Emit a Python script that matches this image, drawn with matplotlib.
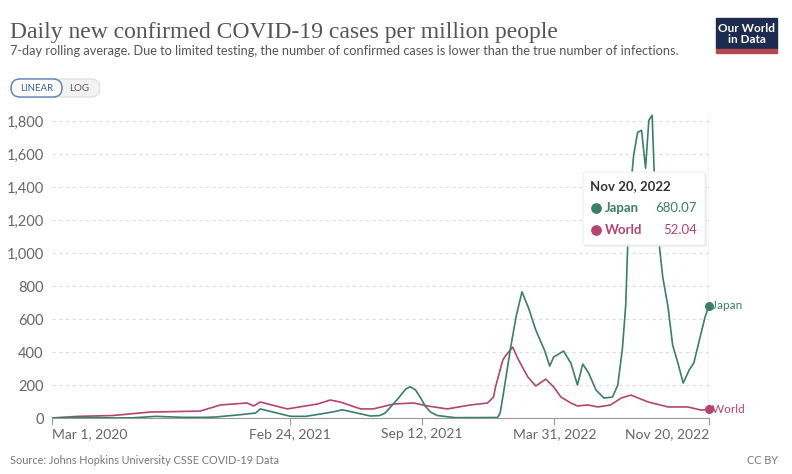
import numpy as np
import pandas as pd
import matplotlib
matplotlib.use("Agg")
import matplotlib.pyplot as plt
import matplotlib.dates as mdates
from matplotlib.patches import FancyBboxPatch, Rectangle

plt.rcParams["font.family"] = ["Lato", "DejaVu Sans"]

# -----------------------------
# Data
# -----------------------------
japan_dates = [
    "2020-03-01", "2020-04-15", "2020-06-01", "2020-07-01", "2020-08-05", "2020-09-15",
    "2020-10-20", "2020-11-03", "2020-12-11", "2021-01-03", "2021-01-10", "2021-02-25",
    "2021-03-20", "2021-04-20", "2021-05-04", "2021-05-14", "2021-06-26", "2021-07-10",
    "2021-07-18", "2021-08-06", "2021-08-18", "2021-08-25", "2021-09-02", "2021-09-10",
    "2021-09-17", "2021-09-25", "2021-10-05", "2021-11-01",
    "2022-01-04", "2022-01-08", "2022-01-13", "2022-01-24", "2022-02-01", "2022-02-10",
    "2022-02-20", "2022-03-03",
    "2022-03-16", "2022-03-24", "2022-03-30", "2022-04-14", "2022-04-25", "2022-05-05",
    "2022-05-13", "2022-05-22", "2022-06-02", "2022-06-14", "2022-06-27", "2022-07-05",
    "2022-07-12", "2022-07-17", "2022-07-22", "2022-07-29", "2022-08-04", "2022-08-10",
    "2022-08-16", "2022-08-21", "2022-08-26", "2022-08-29", "2022-09-05", "2022-09-11",
    "2022-09-19", "2022-09-26", "2022-10-04", "2022-10-12", "2022-10-21", "2022-10-28",
    "2022-11-08", "2022-11-14", "2022-11-20",
]
japan_values = [
    0.5, 4, 0.5, 1, 10, 4,
    4, 6, 20, 30, 55, 10,
    10, 30, 40, 50, 12, 15,
    30, 115, 175, 190, 170, 120,
    70, 35, 15, 2,
    3, 30, 150, 430, 612, 765,
    667, 533,
    412, 315, 370, 406, 333, 200,
    327, 272, 170, 121, 127, 200,
    420, 685, 1290, 1594, 1733, 1745,
    1515, 1806, 1836, 1500, 1079, 855,
    673, 442, 333, 212, 291, 333,
    515, 612, 680.07,
]

world_dates = [
    "2020-03-01", "2020-04-10", "2020-06-01", "2020-07-27", "2020-10-11", "2020-11-11",
    "2020-12-21", "2020-12-31", "2021-01-10", "2021-02-20", "2021-04-07", "2021-04-26",
    "2021-05-11", "2021-06-11", "2021-06-30", "2021-07-31", "2021-08-30", "2021-09-20",
    "2021-10-20", "2021-11-24", "2021-12-20", "2021-12-29", "2022-01-01", "2022-01-12",
    "2022-01-16", "2022-01-27", "2022-02-05", "2022-02-19", "2022-03-03", "2022-03-18",
    "2022-03-30", "2022-04-10", "2022-04-25", "2022-05-05", "2022-05-21", "2022-06-05",
    "2022-06-24", "2022-07-10", "2022-07-25", "2022-08-20", "2022-09-19", "2022-10-19",
    "2022-11-08", "2022-11-20",
]
world_values = [
    0.1, 10, 15, 36, 42, 79,
    91, 73, 97, 55, 85, 109,
    97, 55, 55, 85, 91, 73,
    55, 79, 91, 127, 188, 351,
    376, 430, 351, 248, 194, 236,
    188, 127, 91, 73, 79, 67,
    79, 121, 139, 97, 67, 67,
    48, 52.04,
]

tick_dates = ["2020-03-01", "2021-02-24", "2021-09-12", "2022-03-31", "2022-11-20"]
tick_labels = ["Mar 1, 2020", "Feb 24, 2021", "Sep 12, 2021", "Mar 31, 2022", "Nov 20, 2022"]
y_ticks = [0, 200, 400, 600, 800, 1000, 1200, 1400, 1600, 1800]

JAPAN_C = "#3a7f68"
WORLD_C = "#b5446e"
GRID_C = "#dddddd"
TEXT_C = "#666666"

jd = pd.to_datetime(japan_dates)
wd = pd.to_datetime(world_dates)
td = pd.to_datetime(tick_dates)

W, H = 792, 474
fig = plt.figure(figsize=(W / 100, H / 100), dpi=100)

# main plot area in pixel terms: x 52..709, y 113..418
ax = fig.add_axes([52 / W, (H - 418) / H, (709 - 52) / W, (418 - 113) / H])
ax.plot(wd, world_values, color=WORLD_C, lw=1.2, zorder=3)
ax.plot(jd, japan_values, color=JAPAN_C, lw=1.2, zorder=4)
ax.scatter([wd[-1]], [world_values[-1]], color=WORLD_C, s=30, zorder=5, clip_on=False)
ax.scatter([jd[-1]], [japan_values[-1]], color=JAPAN_C, s=30, zorder=5, clip_on=False)
ax.text(jd[-1], japan_values[-1], " Japan", color=JAPAN_C, fontsize=8.5, va="center", ha="left")
ax.text(wd[-1], world_values[-1], " World", color=WORLD_C, fontsize=8.5, va="center", ha="left")

ax.set_xlim(td[0], td[-1])
ax.set_ylim(0, 1850)
ax.set_yticks(y_ticks)
ax.set_yticklabels([f"{v:,}" for v in y_ticks])
ax.yaxis.grid(True, color=GRID_C, linestyle=(0, (3, 3)), lw=0.8)
ax.axvline(td[-1], color="#d0d0d0", lw=1, zorder=1)
ax.set_xticks(td)
ax.set_xticklabels(tick_labels)
for lab, ha in zip(ax.get_xticklabels(), ["left", "center", "center", "center", "right"]):
    lab.set_ha(ha)
ax.tick_params(axis="x", colors="#999999", length=5, width=0.8, labelcolor=TEXT_C,
               labelsize=10, pad=2)
ax.tick_params(axis="y", length=0, labelcolor=TEXT_C, labelsize=10.5, pad=6)
for s in ["top", "right", "left"]:
    ax.spines[s].set_visible(False)
ax.spines["bottom"].set_color("#999999")
ax.set_facecolor("none")

# overlay in pixel coordinates for header, buttons, tooltip, footer
ov = fig.add_axes([0, 0, 1, 1], zorder=10)
ov.set_xlim(0, W)
ov.set_ylim(H, 0)
ov.axis("off")
ov.patch.set_alpha(0)

ov.text(10, 32, "Daily new confirmed COVID-19 cases per million people",
        family=["Liberation Serif"], fontsize=17, color="#555555", va="center")
ov.text(10, 51, "7-day rolling average. Due to limited testing, the number of confirmed cases "
        "is lower than the true number of infections.", fontsize=9.2, color="#555555", va="center")

# logo
ov.add_patch(Rectangle((716, 18), 61, 31, color="#1d2b4f"))
ov.add_patch(Rectangle((716, 49), 61, 4, color="#b5484f"))
ov.text(746.5, 33.5, "Our World\nin Data", color="white", fontsize=8.5, fontweight="bold",
        ha="center", va="center", linespacing=1.0)

# linear / log buttons
ov.add_patch(FancyBboxPatch((12, 79), 88, 18, boxstyle="round,pad=0,rounding_size=9",
                            fc="#f2f2f2", ec="#dddddd", lw=0.8))
ov.add_patch(FancyBboxPatch((11, 79), 51, 18, boxstyle="round,pad=0,rounding_size=9",
                            fc="white", ec="#5a7fb5", lw=1.0))
ov.text(36.5, 88, "LINEAR", fontsize=7, color="#3360a9", ha="center", va="center")
ov.text(79, 88, "LOG", fontsize=7, color="#555555", ha="center", va="center")

# tooltip
ov.add_patch(FancyBboxPatch((584, 173), 123, 74, boxstyle="round,pad=0,rounding_size=2",
                            fc="#e6e6e6", ec="none", alpha=0.6))
ov.add_patch(FancyBboxPatch((583, 172), 122, 73, boxstyle="round,pad=0,rounding_size=2",
                            fc="white", ec="#eeeeee", lw=0.8))
ov.text(590, 186, "Nov 20, 2022", fontsize=9.5, fontweight="bold", color="#333333", va="center")
ov.scatter([596], [208], color=JAPAN_C, s=45)
ov.text(605, 208, "Japan", fontsize=9.5, fontweight="bold", color=JAPAN_C, va="center")
ov.text(697, 208, f"{japan_values[-1]:.2f}", fontsize=9.5, color=JAPAN_C, va="center", ha="right")
ov.scatter([596], [230], color=WORLD_C, s=45)
ov.text(605, 230, "World", fontsize=9.5, fontweight="bold", color=WORLD_C, va="center")
ov.text(697, 230, f"{world_values[-1]:.2f}", fontsize=9.5, color=WORLD_C, va="center", ha="right")

# footer
ov.text(10, 460, "Source: Johns Hopkins University CSSE COVID-19 Data", fontsize=7.8,
        color="#777777", va="center")
ov.text(778, 460, "CC BY", fontsize=7.8, color="#777777", va="center", ha="right")

fig.savefig("out.png", dpi=100, facecolor="white")
